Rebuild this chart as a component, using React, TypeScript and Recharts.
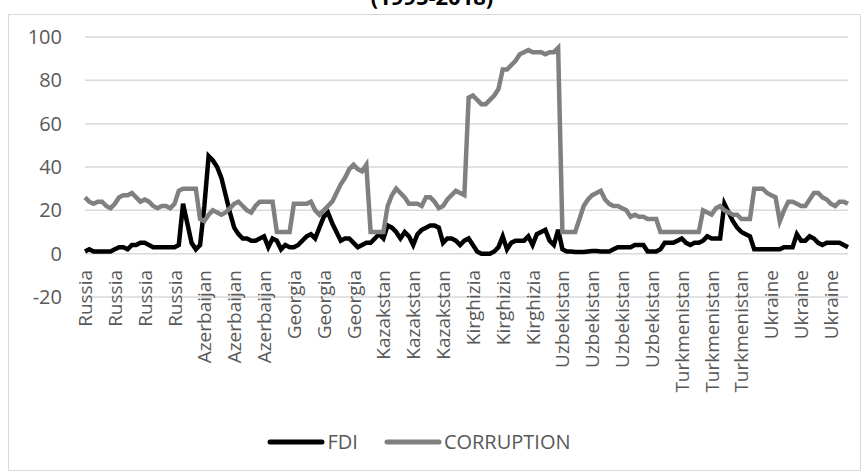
import React from 'react';
import { LineChart, Line, XAxis, YAxis, CartesianGrid, Legend } from 'recharts';

// countries in order and how many yearly observations each one has
const countries = ['Russia', 'Azerbaijan', 'Georgia', 'Kazakstan', 'Kirghizia', 'Uzbekistan', 'Turkmenistan', 'Ukraine'];
const countryCounts = [27, 18, 22, 23, 22, 23, 22, 23];

const fdi = [
  1, 2, 1, 1, 1, 1, 1, 2, 3, 3, 2, 4, 4, 5, 5, 4, 3, 3, 3, 3, 3, 3, 4, 23, 14, 5, 2,
  4, 22, 45, 43, 40, 35, 27, 19, 12, 9, 7, 7, 6, 6, 7, 8, 3, 7,
  6, 2, 4, 3, 3, 4, 6, 8, 9, 7, 12, 17, 19, 14, 10, 6, 7, 7, 5, 3, 4, 5,
  5, 7, 9, 7, 13, 12, 10, 7, 10, 8, 4, 9, 11, 12, 13, 13, 12, 5, 7, 7, 6, 4, 6,
  7, 4, 1, 0, 0, 0, 1, 3, 8, 2, 5, 6, 6, 6, 8, 4, 9, 10, 11, 6, 4, 11,
  2, 1, 1, 0.8, 0.8, 0.8, 1, 1.2, 1.2, 1, 1, 1, 2, 3, 3, 3, 3, 4, 4, 4, 1, 1, 1,
  2, 5, 5, 5, 6, 7, 5, 4, 5, 5, 6, 8, 7, 7, 7, 23, 19, 15, 12, 10, 9, 8,
  2, 2, 2, 2, 2, 2, 2, 3, 3, 3, 9, 6, 6, 8, 7, 5, 4, 5, 5, 5, 5, 4, 3,
];

const corruption = [
  26, 24, 23, 24, 24, 22, 21, 23, 26, 27, 27, 28, 26, 24, 25, 24, 22, 21, 22, 22, 21, 23, 29, 30, 30, 30, 30,
  16, 15, 18, 20, 19, 18, 19, 21, 23, 24, 22, 20, 19, 22, 24, 24, 24, 24,
  10, 10, 10, 10, 23, 23, 23, 23, 24, 20, 18, 20, 22, 24, 28, 32, 35, 39, 41, 39, 38, 41,
  10, 10, 10, 10, 22, 27, 30, 28, 26, 23, 23, 23, 22, 26, 26, 24, 21, 22, 25, 27, 29, 28, 27,
  72, 73, 71, 69, 69, 71, 73, 76, 85, 85, 87, 89, 92, 93, 94, 93, 93, 93, 92, 93, 93, 95,
  10, 10, 10, 10, 16, 22, 25, 27, 28, 29, 25, 23, 22, 22, 21, 20, 17, 18, 17, 17, 16, 16, 16,
  10, 10, 10, 10, 10, 10, 10, 10, 10, 10, 20, 19, 18, 21, 22, 20, 19, 18, 18, 16, 16, 16,
  30, 30, 30, 28, 27, 26, 15, 20, 24, 24, 23, 22, 22, 25, 28, 28, 26, 25, 23, 22, 24, 24, 23,
];

const yTicks = [-20, 0, 20, 40, 60, 80, 100];
const seriesOrder = ['FDI', 'CORRUPTION'];

const labels: string[] = [];
countries.forEach((c, k) => {
  for (let j = 0; j < countryCounts[k]; j++) labels.push(c);
});

const data = labels.map((name, i) => ({
  name,
  FDI: fdi[i],
  CORRUPTION: corruption[i],
}));

const FONT = '"Open Sans", sans-serif';

// Excel puts the category labels next to the zero line, not at the bottom
const CategoryTick = (props: any) => {
  const { x, y, payload } = props;
  return (
    <text
      x={x}
      y={y - 27}
      transform={`rotate(-90, ${x}, ${y - 27})`}
      textAnchor="end"
      dominantBaseline="central"
      fill="#595959"
      fontSize={19}
      fontFamily={FONT}
    >
      {payload.value}
    </text>
  );
};

const renderLegend = (props: any) => {
  const items = [...props.payload].sort(
    (a: any, b: any) => seriesOrder.indexOf(a.value) - seriesOrder.indexOf(b.value)
  );
  return (
    <div style={{ display: 'flex', justifyContent: 'center', alignItems: 'center', fontFamily: FONT, fontSize: 20, color: '#595959' }}>
      {items.map((p: any) => (
        <div key={p.value} style={{ display: 'flex', alignItems: 'center', marginRight: 26 }}>
          <svg width={58} height={10}>
            <line x1={3} y1={5} x2={55} y2={5} stroke={p.color} strokeWidth={5} strokeLinecap="round" />
          </svg>
          <span style={{ marginLeft: 2 }}>{p.value}</span>
        </div>
      ))}
    </div>
  );
};

export default function App() {
  return (
    <div style={{ position: 'absolute', left: 0, top: 0, width: 864, height: 473, background: '#fff', overflow: 'hidden' }}>
      <div style={{ position: 'absolute', left: 8, top: 14, width: 851, height: 455, border: '1px solid #d9d9d9' }} />
      <div
        style={{
          position: 'absolute',
          top: -19,
          left: 0,
          width: 864,
          textAlign: 'center',
          fontFamily: FONT,
          fontWeight: 'bold',
          fontSize: 22,
          lineHeight: '30px',
          color: '#000',
        }}
      >
        (1995-2018)
      </div>
      <div style={{ position: 'absolute', left: 0, top: 0 }}>
        <LineChart width={864} height={473} data={data} margin={{ top: 37, right: 16, left: 8, bottom: 48 }}>
          <CartesianGrid vertical={false} stroke="#d9d9d9" strokeWidth={1.5} />
          <XAxis
            dataKey="name"
            interval={6}
            tick={<CategoryTick />}
            tickLine={false}
            axisLine={false}
            tickSize={0}
            tickMargin={0}
            height={100}
          />
          <YAxis
            domain={[-20, 100]}
            ticks={yTicks}
            width={77}
            tickLine={false}
            axisLine={false}
            tickMargin={17}
            tick={{ fill: '#595959', fontSize: 20, fontFamily: FONT }}
          />
          <Legend
            content={renderLegend}
            wrapperStyle={{ top: 428, left: 0, width: 864, height: 28 }}
          />
          <Line type="linear" dataKey="FDI" stroke="#000000" strokeWidth={4.5} dot={false} isAnimationActive={false} />
          <Line type="linear" dataKey="CORRUPTION" stroke="#808080" strokeWidth={4.5} dot={false} isAnimationActive={false} />
        </LineChart>
      </div>
    </div>
  );
}
